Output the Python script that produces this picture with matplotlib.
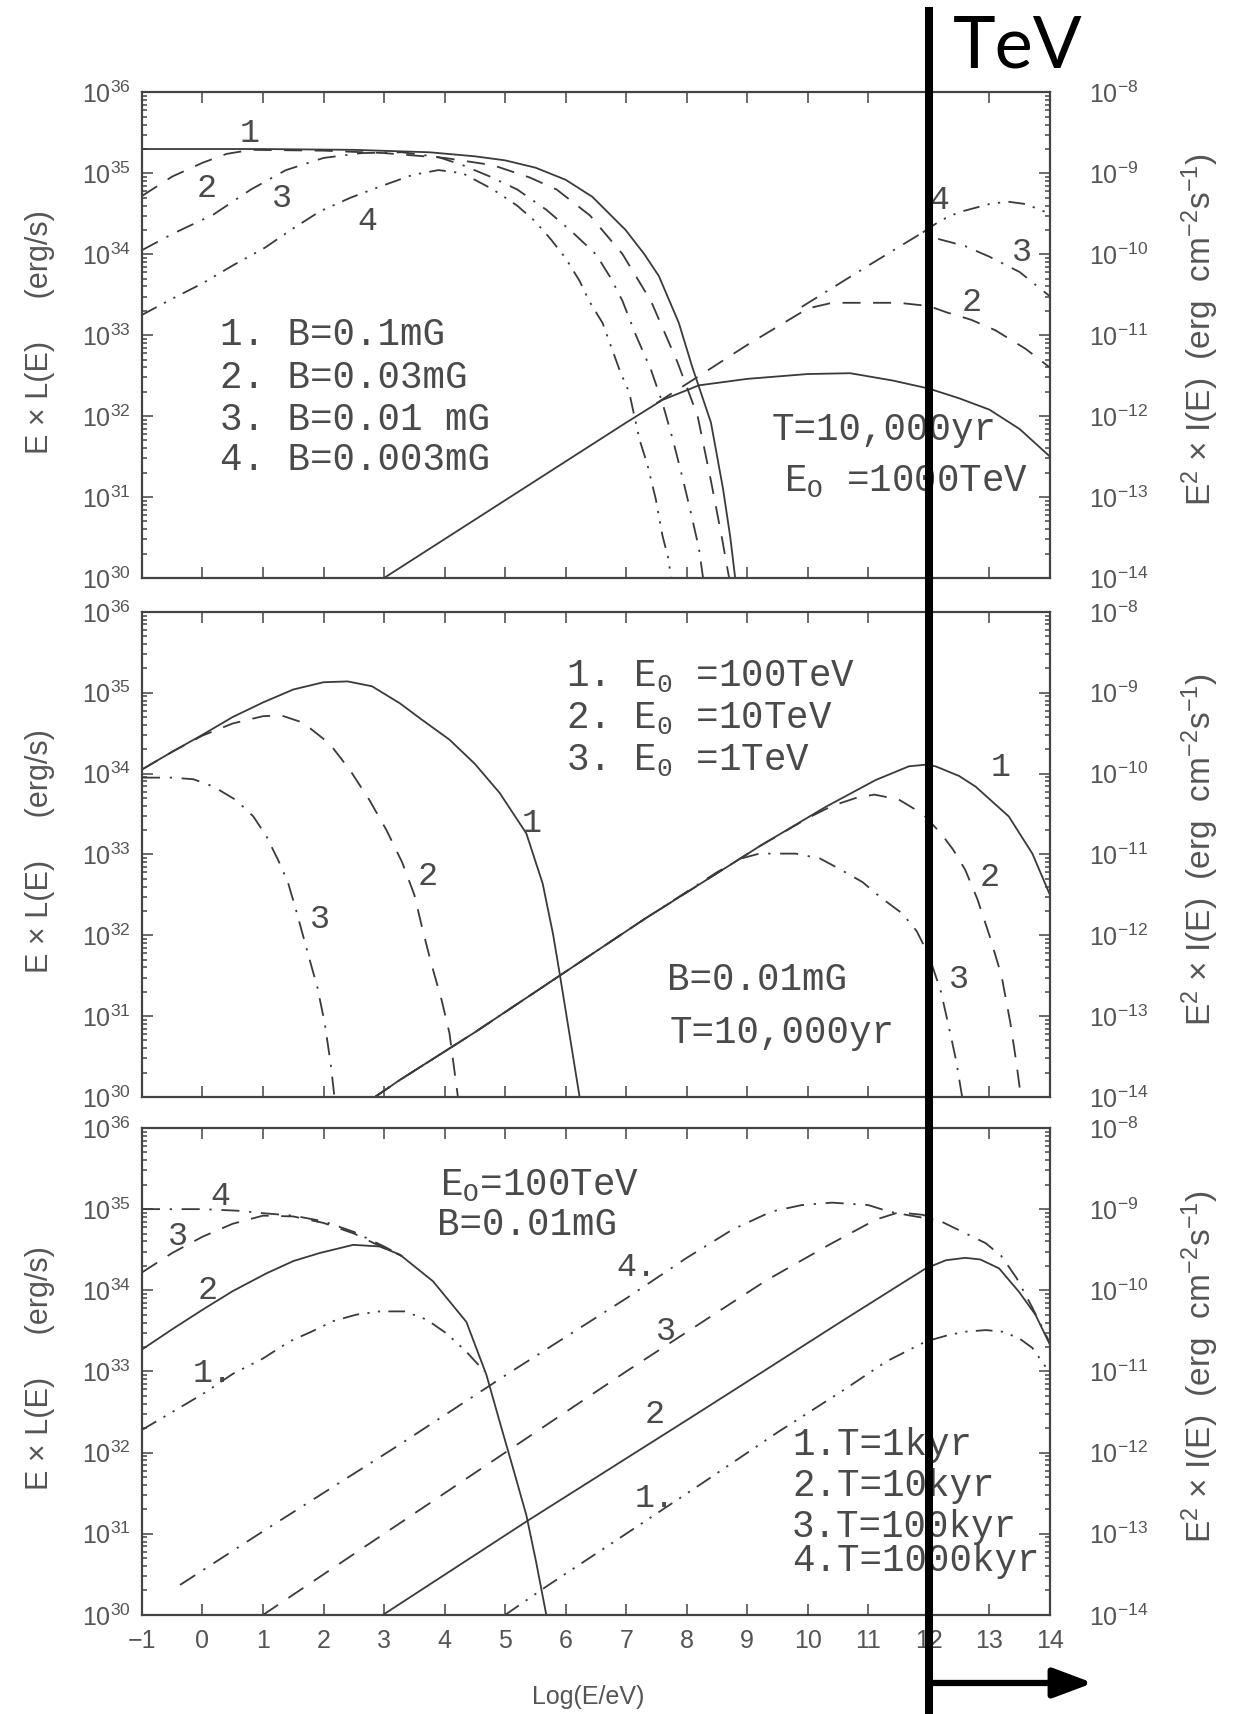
import numpy as np
import matplotlib
matplotlib.use('Agg')
import matplotlib.pyplot as plt
import matplotlib.transforms as mtransforms
from matplotlib.lines import Line2D
from matplotlib.patches import FancyArrowPatch
from matplotlib.ticker import LogLocator, NullFormatter, MultipleLocator

plt.rcParams['font.family'] = ['Liberation Sans', 'DejaVu Sans']
plt.rcParams['mathtext.fontset'] = 'custom'
plt.rcParams['mathtext.rm'] = 'Liberation Sans'
plt.rcParams['mathtext.it'] = 'Liberation Sans:italic'
plt.rcParams['mathtext.tt'] = 'Liberation Mono'
plt.rcParams['lines.scale_dashes'] = False

INK = '#3a3a3a'
TXT = '#4a4a4a'
MONO = 'Liberation Mono'

# (log10 E/eV, log10 E*L(E)) pairs; right axis is the same curves in flux units

# top panel: T=10,000yr, E0=1000TeV, four field strengths
p1_syn1 = [(-1, 35.30), (1, 35.30), (2.5, 35.29), (3.75, 35.26), (4.5, 35.21), (5.0, 35.16),
           (5.5, 35.07), (6.0, 34.92), (6.44, 34.71), (6.99, 34.30), (7.3, 34.0), (7.54, 33.73),
           (7.87, 33.15), (8.09, 32.61), (8.4, 31.92), (8.6, 31.1), (8.72, 30.5), (8.8, 30.0)]
p1_syn2 = [(-1, 34.72), (-0.5, 34.96), (0, 35.13), (0.4, 35.24), (0.8, 35.29), (2, 35.28),
           (3, 35.25), (4, 35.19), (4.8, 35.1), (5.4, 34.95), (5.85, 34.8), (6.4, 34.48),
           (6.94, 34.0), (7.41, 33.42), (7.85, 32.66), (8.18, 32.0), (8.4, 31.2), (8.58, 30.5),
           (8.7, 30.0)]
p1_syn3 = [(-1, 34.05), (-0.5, 34.25), (0.18, 34.49), (0.8, 34.8), (1.38, 35.04), (2.0, 35.19),
           (2.63, 35.25), (3.3, 35.26), (3.9, 35.2), (4.3, 35.1), (4.75, 34.96), (5.2, 34.8),
           (5.68, 34.55), (6.1, 34.28), (6.5, 34.0), (6.75, 33.7), (6.94, 33.42), (7.16, 33.0),
           (7.41, 32.57), (7.6, 32.16), (7.77, 31.71), (7.93, 31.24), (8.07, 30.8), (8.2, 30.37),
           (8.27, 30.0)]
p1_syn4 = [(-1, 33.25), (-0.5, 33.45), (0, 33.64), (0.52, 33.87), (1.03, 34.08), (1.5, 34.32),
           (1.94, 34.53), (2.45, 34.7), (2.91, 34.83), (3.47, 34.98), (3.9, 35.04), (4.3, 35.0),
           (4.8, 34.8), (5.2, 34.6), (5.49, 34.41), (5.76, 34.18), (6.0, 33.95), (6.23, 33.67),
           (6.39, 33.42), (6.61, 33.15), (6.75, 32.86), (6.9, 32.55), (7.05, 32.29), (7.22, 31.71),
           (7.35, 31.40), (7.49, 30.97), (7.6, 30.52), (7.7, 30.23), (7.74, 30.0)]
p1_ic1 = [(3.0, 30.0), (4, 30.48), (5, 30.96), (6, 31.44), (7, 31.92), (7.6, 32.2), (8.2, 32.38),
          (9, 32.46), (10, 32.52), (10.7, 32.53), (11.4, 32.44), (12, 32.34), (12.5, 32.22),
          (13, 32.08), (13.5, 31.84), (14, 31.5)]
p1_ic2 = [(7.5, 32.16), (8.15, 32.47), (9.0, 32.88), (9.6, 33.15), (10.0, 33.33), (10.4, 33.40),
          (11.5, 33.40), (12.0, 33.36), (12.3, 33.28), (12.7, 33.19), (13.1, 33.06), (13.6, 32.83),
          (14, 32.6)]
p1_ic3 = [(9.9, 33.35), (11.0, 33.86), (11.9, 34.27), (12.1, 34.2), (12.6, 34.1), (13.0, 33.97),
          (13.5, 33.78), (14, 33.48)]
p1_ic4 = [(11.9, 34.27), (12.2, 34.42), (12.5, 34.52), (13.0, 34.62), (13.3, 34.65), (13.6, 34.62),
          (14, 34.5)]

# middle panel: B=0.01mG, T=10,000yr, three cut-off energies
p2_syn1 = [(-1, 34.05), (-0.5, 34.27), (0, 34.48), (0.5, 34.70), (1.0, 34.88), (1.5, 35.04),
           (2.0, 35.13), (2.4, 35.14), (2.8, 35.08), (3.26, 34.87), (3.6, 34.68), (4.08, 34.42),
           (4.5, 34.12), (4.91, 33.76), (5.35, 33.26), (5.62, 32.64), (5.79, 32.02), (5.9, 31.53),
           (6.06, 30.79), (6.23, 30.0)]
p2_syn2 = [(-1, 34.05), (-0.5, 34.27), (0, 34.47), (0.5, 34.62), (1.0, 34.71), (1.3, 34.72),
           (1.66, 34.63), (2.1, 34.37), (2.43, 34.05), (2.76, 33.67), (3.04, 33.30), (3.3, 32.9),
           (3.5, 32.5), (3.64, 32.06), (3.78, 31.65), (3.95, 31.2), (4.08, 30.79), (4.22, 30.0)]
p2_syn3 = [(-1, 33.95), (-0.5, 33.95), (-0.15, 33.93), (0.18, 33.84), (0.56, 33.67), (0.84, 33.47),
           (1.06, 33.22), (1.25, 32.93), (1.41, 32.66), (1.55, 32.3), (1.74, 31.78), (1.9, 31.35),
           (2.02, 30.91), (2.12, 30.4), (2.18, 30.0)]
p2_ic1 = [(2.85, 30.0), (3.26, 30.21), (4.5, 30.8), (5.84, 31.47), (7.3, 32.2), (8.76, 32.89),
          (9.2, 33.1), (10.3, 33.59), (11.12, 33.92), (11.67, 34.09), (11.95, 34.11), (12.11, 34.09),
          (12.5, 33.97), (12.77, 33.84), (13.32, 33.47), (13.71, 33.01), (14.0, 32.5)]
p2_ic2 = [(2.85, 30.0), (3.26, 30.21), (4.5, 30.8), (5.84, 31.47), (7.3, 32.2), (8.76, 32.89),
          (9.2, 33.1), (10.0, 33.45), (10.4, 33.6), (10.8, 33.70), (11.1, 33.74), (11.5, 33.68),
          (11.9, 33.50), (12.2, 33.26), (12.4, 33.06), (12.6, 32.81), (12.8, 32.45), (13.0, 32.0),
          (13.2, 31.5), (13.35, 30.9), (13.45, 30.4), (13.52, 30.0)]
p2_ic3 = [(2.85, 30.0), (3.26, 30.21), (4.5, 30.8), (5.84, 31.47), (7.3, 32.2), (8.5, 32.78),
          (8.9, 32.95), (9.2, 33.01), (9.8, 33.01), (10.2, 32.95), (10.5, 32.83), (10.9, 32.66),
          (11.2, 32.47), (11.56, 32.27), (11.8, 32.05), (12.0, 31.75), (12.2, 31.3), (12.35, 30.8),
          (12.45, 30.45), (12.55, 30.0)]

# bottom panel: E0=100TeV, B=0.01mG, four source ages
p3_syn1 = [(-1, 32.28), (-0.5, 32.5), (0, 32.72), (0.5, 32.97), (1.0, 33.16), (1.44, 33.37),
           (1.8, 33.49), (2.16, 33.62), (2.54, 33.70), (2.93, 33.74), (3.34, 33.74), (3.7, 33.64),
           (4.03, 33.47), (4.35, 33.25), (4.66, 33.0)]
p3_syn2 = [(-1, 33.27), (-0.5, 33.52), (0, 33.76), (0.5, 33.99), (1.06, 34.21), (1.5, 34.36),
           (1.94, 34.46), (2.49, 34.56), (2.93, 34.54), (3.26, 34.44), (3.81, 34.11), (4.36, 33.61),
           (4.69, 32.96), (4.91, 32.38), (5.13, 31.81), (5.35, 31.23), (5.51, 30.66), (5.68, 30.0)]
p3_syn3 = [(-1, 34.22), (-0.5, 34.46), (0, 34.66), (0.5, 34.82), (1.0, 34.92), (1.5, 34.91),
           (2.0, 34.83), (2.5, 34.7), (3.0, 34.52), (3.3, 34.42)]
p3_syn4 = [(-1, 35.0), (-0.5, 35.0), (0, 35.0), (0.6, 34.98), (1.0, 34.95), (1.5, 34.92),
           (2.0, 34.85), (2.5, 34.72), (3.0, 34.54), (3.3, 34.42)]
p3_ic1 = [(5.0, 30.0), (5.68, 30.35), (7.1, 31.05), (8.21, 31.6), (9.5, 32.25), (10.57, 32.76),
          (11.29, 33.12), (11.95, 33.37), (12.33, 33.45), (12.61, 33.49), (12.94, 33.51),
          (13.21, 33.49), (13.49, 33.41), (13.71, 33.29), (13.87, 33.12), (14.0, 32.98)]
p3_ic2 = [(2.98, 30.0), (5.37, 31.16), (8.0, 32.4), (9.2, 32.97), (10.5, 33.59), (11.5, 34.06),
          (11.95, 34.27), (12.28, 34.37), (12.6, 34.40), (12.85, 34.38), (13.16, 34.27),
          (13.49, 33.98), (13.76, 33.7), (14.0, 33.33)]
p3_ic3 = [(1.0, 30.0), (3.0, 31.0), (5.0, 32.0), (7.0, 33.0), (9.31, 34.12), (10.35, 34.56),
          (11.12, 34.87), (11.5, 34.96), (11.9, 34.93), (12.05, 34.89)]
p3_ic4 = [(-0.37, 30.37), (1.0, 31.03), (3.26, 32.1), (5.0, 32.95), (7.0, 33.9), (8.0, 34.4),
          (8.76, 34.75), (9.4, 34.97), (9.9, 35.05), (10.4, 35.08), (11.0, 35.05), (11.34, 34.97),
          (11.7, 34.92), (12.17, 34.86), (12.5, 34.74), (12.94, 34.58), (13.2, 34.42),
          (13.45, 34.15), (13.7, 33.8), (14.0, 33.35)]

STYLE = {
    'solid': dict(linestyle='-'),
    'dash': dict(dashes=(13, 9)),
    'dashdot': dict(dashes=(13, 7, 1.6, 7)),
    'dashdotdot': dict(dashes=(12, 6, 1.6, 6, 1.6, 6)),
}

PANELS = [
    [(p1_syn1, 'solid'), (p1_syn2, 'dash'), (p1_syn3, 'dashdot'), (p1_syn4, 'dashdotdot'),
     (p1_ic1, 'solid'), (p1_ic2, 'dash'), (p1_ic3, 'dashdot'), (p1_ic4, 'dashdotdot')],
    [(p2_syn1, 'solid'), (p2_syn2, 'dash'), (p2_syn3, 'dashdot'),
     (p2_ic1, 'solid'), (p2_ic2, 'dash'), (p2_ic3, 'dashdot')],
    [(p3_syn1, 'dashdotdot'), (p3_syn2, 'solid'), (p3_syn3, 'dash'), (p3_syn4, 'dashdot'),
     (p3_ic1, 'dashdotdot'), (p3_ic2, 'solid'), (p3_ic3, 'dash'), (p3_ic4, 'dashdot')],
]


def trace(ax, pts, kind):
    xs = [p[0] for p in pts]
    ys = [10.0 ** p[1] for p in pts]
    ax.plot(xs, ys, color=INK, lw=1.3, **STYLE[kind])


def put(ax, x, e, s, size=27, **kw):
    kw.setdefault('ha', 'left')
    kw.setdefault('va', 'baseline')
    ax.text(x, 10.0 ** e, s, family=MONO, fontsize=size, color=TXT, **kw)


def num(ax, x, e, s):
    ax.text(x, 10.0 ** e, s, family=MONO, fontsize=24, color=TXT, ha='center', va='center')


fig = plt.figure(figsize=(12.44, 17.14), dpi=100)
boxes = [(0.6628, 0.2833), (0.3600, 0.2830), (0.0578, 0.2841)]
axes = []
for i, (y0, h) in enumerate(boxes):
    ax = fig.add_axes([0.1141, y0, 0.7299, h])
    ax.set_xlim(-1, 14)
    ax.set_yscale('log')
    ax.set_ylim(1e30, 1e36)
    ax.xaxis.set_major_locator(MultipleLocator(1))
    ax.yaxis.set_major_locator(LogLocator(base=10, numticks=12))
    ax.yaxis.set_minor_locator(LogLocator(base=10, subs=np.arange(2, 10), numticks=12))
    ax.yaxis.set_minor_formatter(NullFormatter())
    ax.tick_params(which='both', direction='in', top=True, right=False, color='#444',
                   labelcolor='#555', labelsize=18, width=1.1)
    ax.tick_params(which='major', length=8)
    ax.tick_params(which='minor', length=3.5)
    ax.tick_params(axis='y', pad=8)
    ax.tick_params(axis='x', pad=10, labelbottom=(i == 2))
    for sp in ax.spines.values():
        sp.set_color('#444')
        sp.set_linewidth(1.6)

    ax2 = ax.twinx()
    ax2.set_yscale('log')
    ax2.set_ylim(1e-14, 1e-8)
    ax2.yaxis.set_major_locator(LogLocator(base=10, numticks=12))
    ax2.yaxis.set_minor_locator(LogLocator(base=10, subs=np.arange(2, 10), numticks=12))
    ax2.yaxis.set_minor_formatter(NullFormatter())
    ax2.tick_params(which='both', direction='in', color='#444', labelcolor='#555',
                    labelsize=18, width=1.1, pad=28)
    ax2.tick_params(which='major', length=8)
    ax2.tick_params(which='minor', length=3.5)
    for sp in ax2.spines.values():
        sp.set_visible(False)

    for pts, kind in PANELS[i]:
        trace(ax, pts, kind)

    yc = y0 + h / 2
    fig.text(0.032, yc + 0.002, 'E × L(E)     (erg/s)', rotation=90, ha='center', va='center',
             fontsize=22, color='#555')
    fig.text(0.9645, yc + 0.003, r'E$^2$ × I(E)  (erg  cm$^{-2}$s$^{-1}$)', rotation=90,
             ha='center', va='center', fontsize=24, color='#555')
    axes.append(ax)

ax1, ax2_, ax3 = axes

# top panel annotations
put(ax1, 0.29, 32.88, '1. B=0.1mG')
put(ax1, 0.29, 32.35, '2. B=0.03mG')
put(ax1, 0.29, 31.83, '3. B=0.01 mG')
put(ax1, 0.29, 31.33, '4. B=0.003mG')
put(ax1, 9.41, 31.71, 'T=10,000yr')
put(ax1, 9.61, 31.06, r'E$_\mathtt{O}$ =1000TeV')
num(ax1, 0.78, 35.49, '1')
num(ax1, 0.07, 34.81, '2')
num(ax1, 1.31, 34.69, '3')
num(ax1, 2.73, 34.40, '4')
num(ax1, 12.17, 34.67, '4')
num(ax1, 13.54, 34.02, '3')
num(ax1, 12.70, 33.40, '2')

# middle panel annotations
put(ax2_, 6.01, 35.08, r'1. E$_\mathtt{0}$ =100TeV')
put(ax2_, 6.01, 34.56, r'2. E$_\mathtt{0}$ =10TeV')
put(ax2_, 6.01, 34.04, r'3. E$_\mathtt{0}$ =1TeV')
put(ax2_, 7.68, 31.32, 'B=0.01mG')
put(ax2_, 7.71, 30.67, 'T=10,000yr')
num(ax2_, 5.43, 33.38, '1')
num(ax2_, 3.72, 32.73, '2')
num(ax2_, 1.94, 32.19, '3')
num(ax2_, 13.19, 34.07, '1')
num(ax2_, 13.0, 32.72, '2')
num(ax2_, 12.5, 31.45, '3')

# bottom panel annotations
put(ax3, 3.92, 35.17, r'E$_\mathtt{O}$=100TeV')
put(ax3, 3.88, 34.68, 'B=0.01mG')
put(ax3, 9.74, 31.97, '1.T=1kyr')
put(ax3, 9.74, 31.46, '2.T=10kyr')
put(ax3, 9.74, 30.96, '3.T=100kyr')
put(ax3, 9.74, 30.54, '4.T=1000kyr')
num(ax3, 0.29, 35.15, '4')
num(ax3, -0.41, 34.66, '3')
num(ax3, 0.09, 34.0, '2')
num(ax3, 0.17, 32.98, '1.')
num(ax3, 7.16, 34.28, '4.')
num(ax3, 7.66, 33.49, '3')
num(ax3, 7.47, 32.47, '2')
num(ax3, 7.47, 31.44, '1.')

fig.text(588 / 1244, 1 - 1697 / 1714, 'Log(E/eV)', ha='center', va='center',
         fontsize=18, color='#555')

# TeV marker drawn over everything: vertical bar at log E = 12 and an arrow to the right
trans = mtransforms.blended_transform_factory(ax3.transData, fig.transFigure)
fig.add_artist(Line2D([12, 12], [0, 1 - 11 / 1714], transform=trans, color='black',
                      lw=5.8, zorder=20))
arrow = FancyArrowPatch((12, 0.0181), (14.71, 0.0181), transform=trans,
                        arrowstyle='-|>,head_length=1.2,head_width=0.45', mutation_scale=20,
                        lw=4.5, color='black', shrinkA=0, shrinkB=0, zorder=20)
fig.add_artist(arrow)
fig.text(953 / 1244, 1 - 68 / 1714, 'TeV', family=['Lato', 'DejaVu Sans'], fontsize=52,
         color='black', ha='left', va='baseline')

fig.savefig('out.png', dpi=100, facecolor='white')
